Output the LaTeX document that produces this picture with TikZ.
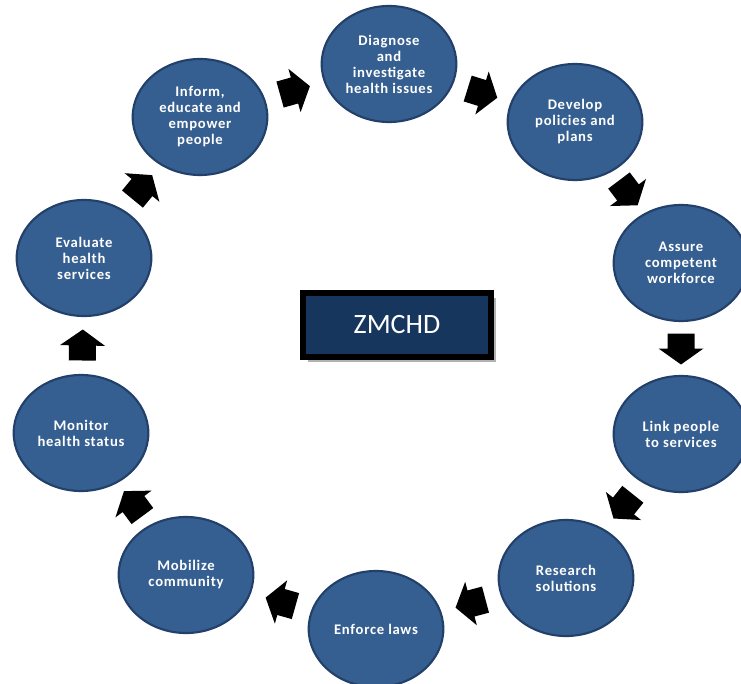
\documentclass[tikz,border=0pt]{standalone}
\usepackage{fontspec}
\setmainfont{Carlito}
\newfontfamily\stagefont[LetterSpace=5]{Carlito}
\usetikzlibrary{shapes.geometric,calc,shadows}
\definecolor{circfill}{HTML}{365F91}
\definecolor{circline}{HTML}{22406A}
\definecolor{boxfill}{HTML}{17365D}
\tikzset{
  stage/.style={ellipse, fill=circfill, draw=circline, line width=1.6pt,
    minimum width=101pt, minimum height=87pt, inner sep=0pt,
    text=white, align=center, font=\stagefont\bfseries\fontsize{11}{12}\selectfont},
  blockarrow/.pic={\fill[black] (-15,-13.5) -- (0,-13.5) -- (0,-22.5) -- (16,0) -- (0,22.5) -- (0,13.5) -- (-15,13.5) -- cycle;}
}
\begin{document}
\begin{tikzpicture}[x=0.75pt,y=-0.75pt]
\useasboundingbox (0,0) rectangle (741,684);
\node[stage] (dia) at (389,64) {Diagnose\\and\\investigate\\health issues};
\node[stage] (dev) at (575,122) {Develop\\policies and\\plans};
\node[stage] (ass) at (681,263) {Assure\\competent\\workforce};
\node[stage] (lnk) at (681,434) {Link people\\to services};
\node[stage] (res) at (566,578) {Research\\solutions};
\node[stage] (enf) at (376,629) {Enforce laws};
\node[stage] (mob) at (186,575) {Mobilize\\community};
\node[stage] (mon) at (81,433) {Monitor\\health status};
\node[stage] (eva) at (84,258) {Evaluate\\health\\services};
\node[stage] (inf) at (200,117) {Inform,\\educate and\\empower\\people};
\node[draw=black, line width=5.2pt, fill=boxfill, minimum width=141pt, minimum height=48pt,
  text=white, font=\fontsize{21}{24}\selectfont,
  drop shadow={shadow xshift=3.5pt, shadow yshift=-3.5pt, fill=black!30, opacity=1}] (zm) at (397,325) {ZMCHD};
\foreach \a/\b in {inf/dia, dia/dev, dev/ass, ass/lnk, lnk/res, res/enf, enf/mob, mob/mon, mon/eva, eva/inf} {
  \path let \p1=($(\b)-(\a)$), \n1={atan2(\y1,\x1)} in
    pic[rotate=\n1] at ($(\a)!0.5!(\b)$) {blockarrow};
}
\end{tikzpicture}
\end{document}
